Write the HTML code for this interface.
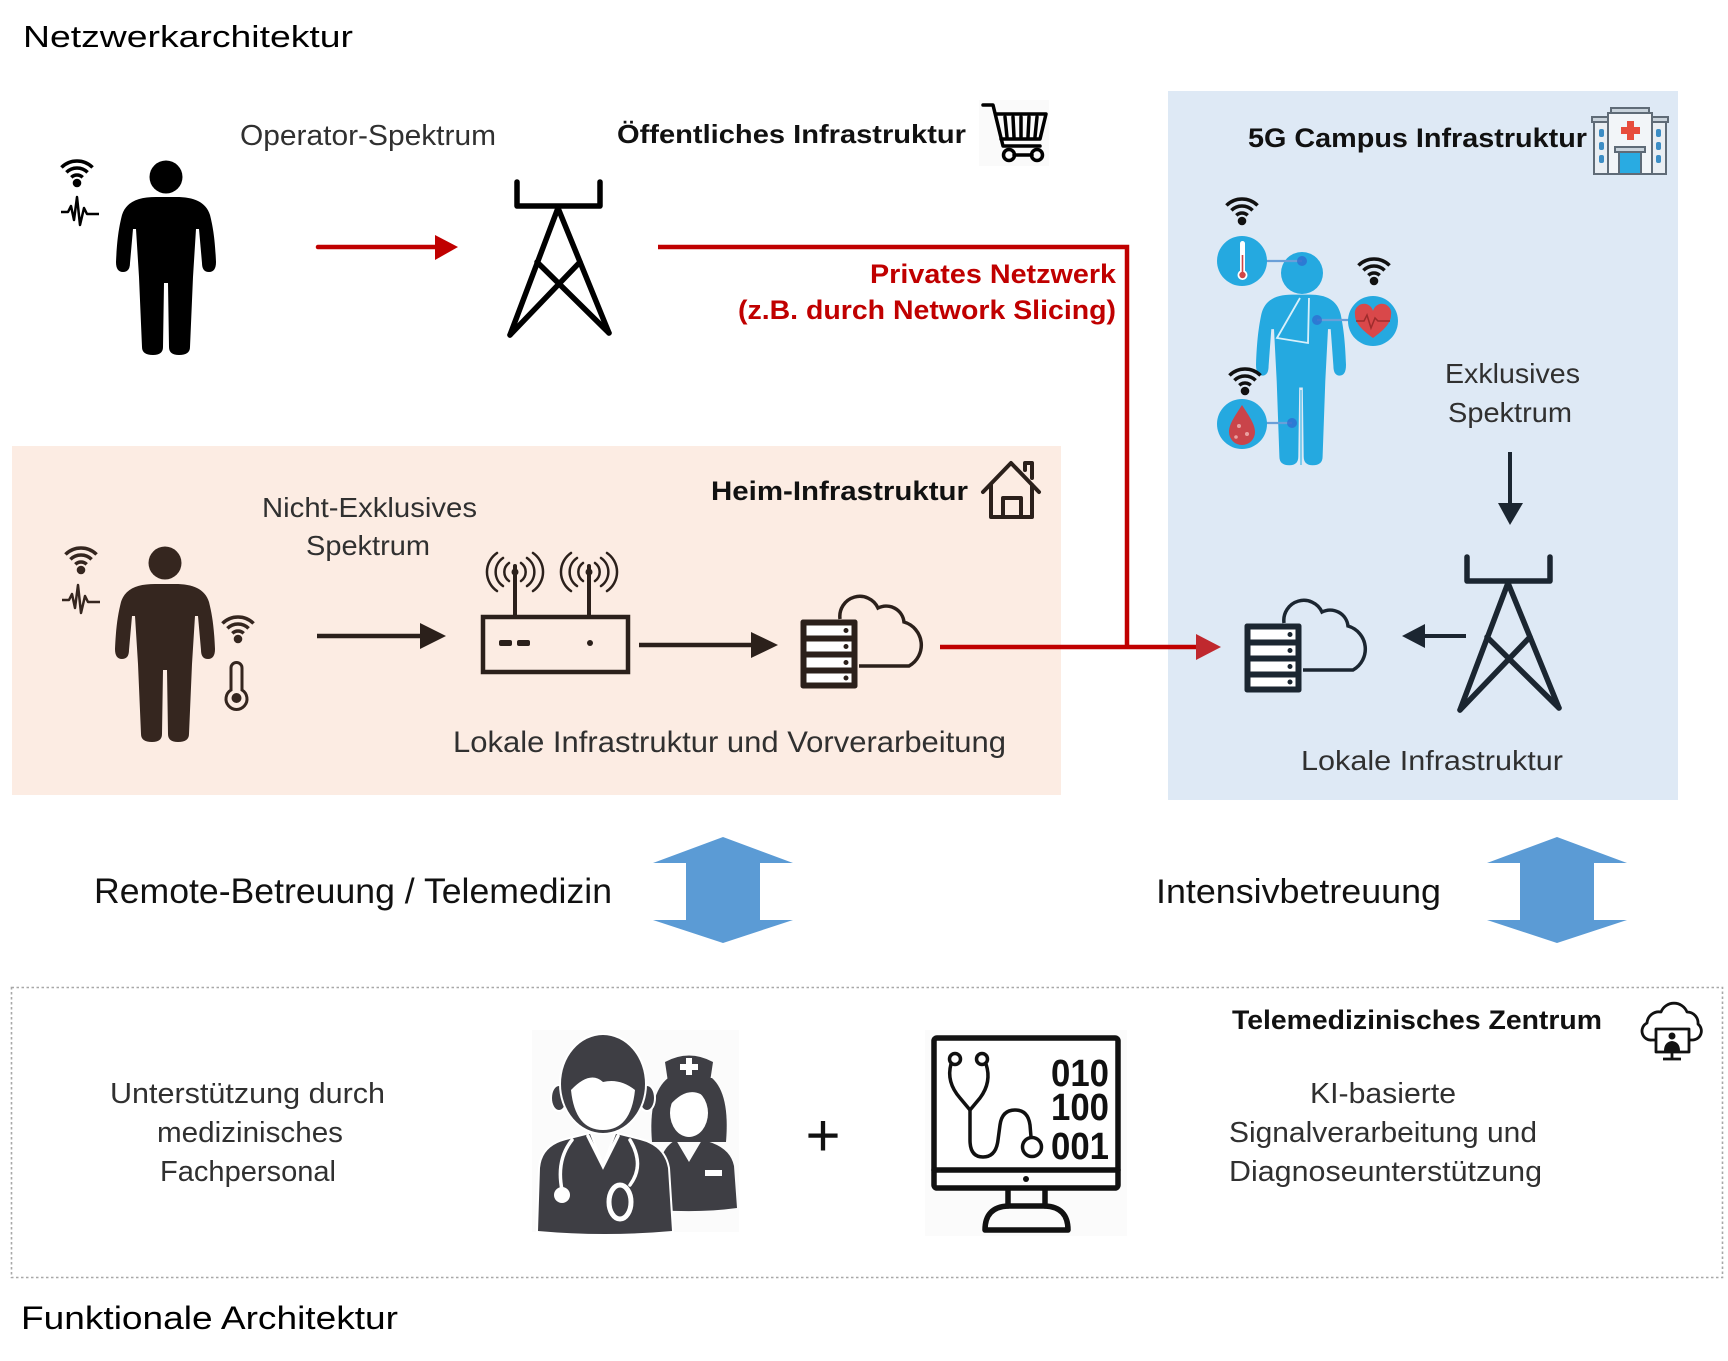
<!DOCTYPE html>
<html><head><meta charset="utf-8"><style>
html,body{margin:0;padding:0;background:#fff;}
svg{display:block;}
text{font-family:"Liberation Sans",sans-serif;}
.l{fill:#303030;}
.b{font-weight:bold;fill:#111;}
</style></head><body>
<svg width="1728" height="1361" viewBox="0 0 1728 1361" xmlns="http://www.w3.org/2000/svg">
<defs>
  <path id="person" d="M -10 20 C -28 20 -40 25 -44 38 C -47 50 -49 62 -50 85 Q -50 95 -43 95 Q -36 95 -36 86 L -33 52 L -30 52 L -27 100 L -24 170 Q -24 178 -13 178 Q -3 178 -3 170 L -2 106 L 2 106 L 3 170 Q 3 178 13 178 Q 24 178 24 170 L 27 100 L 30 52 L 33 52 L 36 86 Q 36 95 43 95 Q 50 95 50 85 C 49 62 47 50 44 38 C 40 25 28 20 10 20 Z"/>
  <g id="wifi"><circle cx="0" cy="0" r="3.8"/><path d="M -5.66 -5.66 A 8 8 0 0 1 5.66 -5.66 M -10.6 -10.6 A 15 15 0 0 1 10.6 -10.6 M -15.56 -15.56 A 22 22 0 0 1 15.56 -15.56" fill="none" stroke-width="3.5"/></g>
  <g id="tower" fill="none" stroke-width="5.5" stroke-linecap="round" stroke-linejoin="round">
    <path d="M 517 182 L 517 206 L 600 206 L 600 182"/>
    <path d="M 510 335 L 558 208 L 609 333"/>
    <path d="M 537 262 L 609 333 M 580 262 L 510 335"/>
  </g>
  <g id="server">
    <rect x="0" y="0" width="56" height="68" rx="2"/>
    <rect x="5" y="5" width="46" height="11" fill="#fff"/>
    <rect x="5" y="21" width="46" height="11" fill="#fff"/>
    <rect x="5" y="37" width="46" height="11" fill="#fff"/>
    <rect x="5" y="53" width="46" height="10" fill="#fff"/>
    <circle cx="45" cy="10.5" r="2"/><circle cx="45" cy="26.5" r="2"/><circle cx="45" cy="42.5" r="2"/><circle cx="45" cy="58" r="2"/>
    <path d="M 39 -1 A 20 20 0 0 1 77 -12 A 18 18 0 0 1 103 2 A 24 24 0 0 1 108 46 L 58 46" fill="none" stroke-width="3.5"/>
  </g>
</defs>

<!-- Background boxes -->
<rect x="12" y="446" width="1049" height="349" fill="#FCECE3"/>
<rect x="1168" y="91" width="510" height="709" fill="#DEE9F5"/>

<!-- Titles -->
<text x="23" y="47" font-size="31" fill="#000" textLength="330" lengthAdjust="spacingAndGlyphs">Netzwerkarchitektur</text>
<text x="21" y="1329" font-size="32" fill="#000" textLength="377" lengthAdjust="spacingAndGlyphs">Funktionale Architektur</text>

<!-- Person 1 -->
<g fill="#000">
  <circle cx="166" cy="177" r="16.5"/>
  <use href="#person" transform="translate(166,177)"/>
</g>
<use href="#wifi" x="77" y="183" fill="#000" stroke="#000"/>
<polyline points="61,212 68,212 71,206 74,220 77,197 80,225 84,208 87,214 99,214" fill="none" stroke="#000" stroke-width="2.5" stroke-linejoin="round"/>

<text x="240" y="145" font-size="29" class="l" textLength="256" lengthAdjust="spacingAndGlyphs">Operator-Spektrum</text>

<!-- Red arrow 1 -->
<line x1="318" y1="247" x2="440" y2="247" stroke="#C00000" stroke-width="4.5" stroke-linecap="round"/>
<polygon points="435,235 458,247 435,260" fill="#C00000"/>

<!-- Tower 1 -->
<use href="#tower" stroke="#000"/>

<text x="617" y="143" font-size="26" class="b" textLength="349" lengthAdjust="spacingAndGlyphs">Öffentliches Infrastruktur</text>

<!-- Cart -->
<rect x="979" y="100" width="70" height="66" fill="#fafafa"/>
<g fill="none" stroke="#000" stroke-width="3.5" stroke-linejoin="round" stroke-linecap="round">
  <path d="M 983 105 L 993 105 L 1003 146 L 1040 146"/>
  <path d="M 996 114 L 1046 114 L 1040 139 L 1001 139"/>
  <path d="M 1005 117 L 1007 137 M 1013 117 L 1014 137 M 1021 117 L 1021 137 M 1029 117 L 1028 137 M 1037 117 L 1035 137"/>
  <circle cx="1009" cy="155" r="5.5"/><circle cx="1037" cy="155" r="5.5"/>
  <path d="M 1014 155 L 1032 155"/>
</g>

<!-- Red network line -->
<polyline points="658,247 1127,247 1127,647" fill="none" stroke="#C00000" stroke-width="4.5"/>
<line x1="940" y1="647" x2="1200" y2="647" stroke="#C00000" stroke-width="4.5"/>
<polygon points="1196,634 1221,647 1196,660" fill="#C0282E"/>
<text x="870" y="283" font-size="27" font-weight="bold" fill="#C00000" textLength="246" lengthAdjust="spacingAndGlyphs">Privates Netzwerk</text>
<text x="738" y="319" font-size="27" font-weight="bold" fill="#C00000" textLength="378" lengthAdjust="spacingAndGlyphs">(z.B. durch Network Slicing)</text>

<!-- 5G campus -->
<text x="1248" y="147" font-size="27" class="b" textLength="339" lengthAdjust="spacingAndGlyphs">5G Campus Infrastruktur</text>
<!-- Hospital -->
<g stroke="#5f6b77" stroke-width="2">
  <rect x="1594" y="121" width="15" height="53" fill="#e9eef3"/>
  <rect x="1651" y="121" width="15" height="53" fill="#e9eef3"/>
  <rect x="1592" y="117" width="19" height="5" fill="#c9d3dc"/>
  <rect x="1649" y="117" width="19" height="5" fill="#c9d3dc"/>
  <rect x="1608" y="113" width="44" height="61" fill="#f2f5f8"/>
  <rect x="1611" y="108" width="38" height="5" fill="#c9d3dc"/>
  <rect x="1619" y="152" width="22" height="22" fill="#29abe2"/>
  <rect x="1615" y="147" width="30" height="5" fill="#c9d3dc"/>
</g>
<g fill="#3c8dc5">
  <rect x="1599" y="129" width="5" height="8" rx="2"/><rect x="1599" y="142" width="5" height="8" rx="2"/><rect x="1599" y="155" width="5" height="8" rx="2"/>
  <rect x="1656" y="129" width="5" height="8" rx="2"/><rect x="1656" y="142" width="5" height="8" rx="2"/><rect x="1656" y="155" width="5" height="8" rx="2"/>
</g>
<g fill="#e74c3c"><rect x="1627" y="121" width="7" height="19"/><rect x="1621" y="127" width="19" height="7"/></g>

<!-- Blue patient figure -->
<g fill="#25A9E0">
  <circle cx="1302" cy="273" r="21"/>
  <use href="#person" transform="translate(1301,273) scale(0.9,1.08)"/>
</g>
<path d="M 1300 298 L 1277 338 L 1308 343 L 1309 298" fill="none" stroke="#d8f0fb" stroke-width="1.8"/>
<line x1="1301" y1="390" x2="1301" y2="465" stroke="#62c2ea" stroke-width="1.5"/>
<!-- connectors -->
<g stroke="#6a9fd8" stroke-width="2.2">
  <line x1="1266" y1="261" x2="1302" y2="261"/>
  <line x1="1317" y1="320" x2="1349" y2="320"/>
  <line x1="1266" y1="423" x2="1292" y2="423"/>
</g>
<g fill="#2f6bd0" opacity="0.75">
  <circle cx="1302" cy="261" r="5"/><circle cx="1317" cy="320" r="5"/><circle cx="1292" cy="423" r="5"/>
</g>
<!-- sensor circles -->
<circle cx="1242" cy="261" r="25" fill="#25A9E0"/>
<circle cx="1373" cy="321" r="25" fill="#25A9E0"/>
<circle cx="1242" cy="424" r="25" fill="#25A9E0"/>
<rect x="1240" y="241" width="5" height="32" rx="2.5" fill="#fff"/>
<circle cx="1242.5" cy="275" r="5" fill="#fff"/>
<circle cx="1242.5" cy="275" r="3.2" fill="#d04545"/>
<line x1="1242.5" y1="255" x2="1242.5" y2="274" stroke="#d04545" stroke-width="1.6"/>
<path d="M 1373 338 C 1362 330 1355 323 1355 315 A 8 8 0 0 1 1373 311 A 8 8 0 0 1 1391 315 C 1391 323 1384 330 1373 338 Z" fill="#D9484A"/>
<polyline points="1356,321 1364,321 1367,315 1371,328 1375,318 1378,321 1390,321" fill="none" stroke="#9e2c2c" stroke-width="1.5"/>
<path d="M 1242 405 C 1249 416 1255 424 1255 432 A 13 13 0 0 1 1229 432 C 1229 424 1235 416 1242 405 Z" fill="#C9444A"/>
<circle cx="1239" cy="426" r="2" fill="#e9a0a0"/><circle cx="1247" cy="434" r="2" fill="#e9a0a0"/><circle cx="1236" cy="437" r="1.8" fill="#e9a0a0"/>
<use href="#wifi" x="1242" y="221" fill="#111" stroke="#111"/>
<use href="#wifi" x="1374" y="281" fill="#111" stroke="#111"/>
<use href="#wifi" x="1245" y="391" fill="#111" stroke="#111"/>

<text x="1445" y="383" font-size="28" class="l" textLength="135" lengthAdjust="spacingAndGlyphs">Exklusives</text>
<text x="1448" y="422" font-size="28" class="l" textLength="124" lengthAdjust="spacingAndGlyphs">Spektrum</text>

<!-- down arrow -->
<line x1="1510" y1="452" x2="1510" y2="510" stroke="#1b2631" stroke-width="4"/>
<polygon points="1498,503 1510,525 1523,503" fill="#1b2631"/>

<!-- Tower 2 -->
<use href="#tower" transform="translate(950,375)" stroke="#1b2631"/>
<!-- left arrow -->
<line x1="1466" y1="636" x2="1415" y2="636" stroke="#1b2631" stroke-width="4"/>
<polygon points="1425,624 1402,636 1425,648" fill="#1b2631"/>

<!-- Server 2 -->
<use href="#server" transform="translate(1245,624)" fill="#1b2631" stroke="#1b2631"/>
<text x="1301" y="770" font-size="28" class="l" textLength="262" lengthAdjust="spacingAndGlyphs">Lokale Infrastruktur</text>

<!-- Home section -->
<text x="711" y="500" font-size="27" class="b" textLength="257" lengthAdjust="spacingAndGlyphs">Heim-Infrastruktur</text>
<g fill="none" stroke="#2b201b" stroke-width="4" stroke-linejoin="round" stroke-linecap="round">
  <path d="M 983 492 L 1011 463 L 1039 492"/>
  <path d="M 991 485 L 991 517 L 1032 517 L 1032 485"/>
  <path d="M 1003 517 L 1003 498 L 1021 498 L 1021 517"/>
  <path d="M 1025 470 L 1025 463 L 1032 463 L 1032 478"/>
</g>

<text x="262" y="517" font-size="28" class="l" textLength="215" lengthAdjust="spacingAndGlyphs">Nicht-Exklusives</text>
<text x="306" y="555" font-size="28" class="l" textLength="124" lengthAdjust="spacingAndGlyphs">Spektrum</text>

<!-- Person 2 -->
<g fill="#35261f">
  <circle cx="165" cy="563" r="16.5"/>
  <use href="#person" transform="translate(165,564)"/>
</g>
<use href="#wifi" x="81" y="570" fill="#35261f" stroke="#35261f"/>
<polyline points="62,600 69,600 72,594 75,608 78,585 81,613 85,596 88,602 100,602" fill="none" stroke="#35261f" stroke-width="2.5" stroke-linejoin="round"/>
<use href="#wifi" x="238" y="639" fill="#35261f" stroke="#35261f"/>
<path d="M 231 690 L 231 668 A 5.5 5.5 0 0 1 242 668 L 242 690 A 10.5 10.5 0 1 1 231 690 Z" fill="none" stroke="#35261f" stroke-width="3"/>
<circle cx="236.5" cy="698" r="5" fill="#35261f"/>

<!-- home arrows -->
<line x1="317" y1="636" x2="430" y2="636" stroke="#2b201b" stroke-width="4.5"/>
<polygon points="420,623 446,636 420,649" fill="#2b201b"/>
<!-- Router -->
<g fill="none" stroke="#2b201b" stroke-linecap="round">
  <rect x="483" y="617" width="145" height="55" stroke-width="4.5"/>
  <line x1="515" y1="566" x2="515" y2="617" stroke-width="4"/>
  <line x1="589" y1="566" x2="589" y2="617" stroke-width="4"/>
  <path d="M 509 563 A 11 11 0 0 0 509 581 M 503 558 A 17 17 0 0 0 503 586 M 497 553 A 23 23 0 0 0 497 591 M 521 563 A 11 11 0 0 1 521 581 M 527 558 A 17 17 0 0 1 527 586 M 533 553 A 23 23 0 0 1 533 591" stroke-width="2.5"/>
  <path d="M 583 563 A 11 11 0 0 0 583 581 M 577 558 A 17 17 0 0 0 577 586 M 571 553 A 23 23 0 0 0 571 591 M 595 563 A 11 11 0 0 1 595 581 M 601 558 A 17 17 0 0 1 601 586 M 607 553 A 23 23 0 0 1 607 591" stroke-width="2.5"/>
</g>
<circle cx="515" cy="572" r="3.5" fill="#2b201b"/><circle cx="589" cy="572" r="3.5" fill="#2b201b"/>
<rect x="499" y="640" width="13" height="6" rx="2" fill="#2b201b"/>
<rect x="517" y="640" width="13" height="6" rx="2" fill="#2b201b"/>
<circle cx="590" cy="643" r="3" fill="#2b201b"/>
<line x1="639" y1="645" x2="765" y2="645" stroke="#2b201b" stroke-width="4.5"/>
<polygon points="751,632 778,645 751,658" fill="#2b201b"/>
<!-- Server 1 -->
<use href="#server" transform="translate(801,620)" fill="#2b201b" stroke="#2b201b"/>
<text x="453" y="752" font-size="30" class="l" textLength="553" lengthAdjust="spacingAndGlyphs">Lokale Infrastruktur und Vorverarbeitung</text>

<!-- Middle row -->
<text x="94" y="903" font-size="35" fill="#111" textLength="518" lengthAdjust="spacingAndGlyphs">Remote-Betreuung / Telemedizin</text>
<polygon points="723,837 793,863 760,863 760,920 793,920 723,943 653,920 686,920 686,863 653,863" fill="#5B9BD5"/>
<text x="1156" y="903" font-size="34" fill="#111" textLength="285" lengthAdjust="spacingAndGlyphs">Intensivbetreuung</text>
<polygon points="1557,837 1627,863 1594,863 1594,920 1627,920 1557,943 1487,920 1520,920 1520,863 1487,863" fill="#5B9BD5"/>

<!-- Dotted box -->
<rect x="11.5" y="987.5" width="1711" height="290" fill="none" stroke="#a8a8a8" stroke-width="1.6" stroke-dasharray="2.5 2.5"/>

<text x="110" y="1103" font-size="29" class="l" textLength="275" lengthAdjust="spacingAndGlyphs">Unterstützung durch</text>
<text x="157" y="1142" font-size="29" class="l" textLength="186" lengthAdjust="spacingAndGlyphs">medizinisches</text>
<text x="160" y="1181" font-size="29" class="l" textLength="176" lengthAdjust="spacingAndGlyphs">Fachpersonal</text>

<!-- Doctor & nurse icon -->
<rect x="532" y="1030" width="207" height="202" fill="#fbfbfb"/>
<g fill="#3e3e44">
  <path d="M 652 1142 Q 648 1094 668 1078 L 712 1078 Q 730 1094 726 1142 Z"/>
  <path d="M 668 1082 L 665 1062 Q 689 1049 713 1062 L 710 1082 Z"/>
  <path d="M 658 1210 L 660 1162 Q 664 1146 676 1140 L 689 1162 L 702 1140 Q 730 1146 734 1166 L 737 1208 Q 700 1213 658 1210 Z"/>
</g>
<g fill="#fff"><rect x="686" y="1058" width="6" height="17"/><rect x="680" y="1064" width="18" height="6"/></g>
<ellipse cx="689" cy="1113" rx="19" ry="24" fill="#fff"/>
<path d="M 670 1105 Q 690 1082 709 1100 L 709 1086 L 670 1086 Z" fill="#3e3e44"/>
<rect x="705" y="1170" width="17" height="6" fill="#fff"/>
<g fill="#3e3e44" stroke="#fff" stroke-width="4" paint-order="stroke">
  <path d="M 538 1231 L 540 1168 Q 542 1146 566 1140 L 590 1134 L 603 1168 L 616 1134 L 640 1140 Q 664 1146 668 1168 L 672 1231 Q 605 1237 538 1231 Z"/>
  <ellipse cx="559" cy="1098" rx="7" ry="12"/>
  <ellipse cx="647" cy="1098" rx="7" ry="12"/>
  <ellipse cx="603" cy="1084" rx="42" ry="49"/>
</g>
<path d="M 571 1090 Q 575 1130 603 1130 Q 631 1130 635 1090 Q 620 1078 603 1082 Q 590 1070 571 1090 Z" fill="#fff"/>
<g fill="none" stroke="#fff" stroke-width="3.5" stroke-linecap="round">
  <polyline points="588,1136 603,1166 618,1136"/>
  <path d="M 572 1140 Q 556 1160 562 1190"/>
  <path d="M 630 1140 Q 645 1165 630 1185"/>
  <ellipse cx="620" cy="1202" rx="11" ry="17" stroke-width="5"/>
</g>
<circle cx="562" cy="1195" r="8" fill="#fff"/>

<text x="823" y="1156" font-size="60" fill="#111" text-anchor="middle">+</text>

<!-- Monitor icon -->
<rect x="925" y="1030" width="202" height="206" fill="#fbfbfb"/>
<g fill="none" stroke="#111" stroke-width="5.5" stroke-linejoin="round" stroke-linecap="round">
  <rect x="934" y="1038" width="184" height="150" rx="3" fill="#fff"/>
  <line x1="934" y1="1170" x2="1118" y2="1170"/>
  <path d="M 1008 1189 L 1008 1206 M 1045 1189 L 1045 1206"/>
  <path d="M 985 1230 L 1068 1230 Q 1068 1207 1045 1206 L 1008 1206 Q 985 1207 985 1230 Z"/>
</g>
<circle cx="1026" cy="1179" r="3" fill="#111"/>
<g fill="none" stroke="#111" stroke-width="3.5" stroke-linecap="round" stroke-linejoin="round">
  <circle cx="955" cy="1059" r="5.5"/><circle cx="982" cy="1059" r="5.5"/>
  <path d="M 951 1064 Q 946 1082 960 1098 L 970 1110 L 980 1098 Q 992 1082 986 1064"/>
  <path d="M 970 1110 L 970 1140 Q 970 1157 983 1157 Q 996 1157 998 1140 L 1000 1125 Q 1002 1110 1015 1110 Q 1028 1110 1030 1125 L 1031 1137"/>
  <circle cx="1032" cy="1147" r="9.5"/>
</g>
<g font-weight="bold" fill="#111" font-size="38">
  <text x="1051" y="1086" textLength="58" lengthAdjust="spacingAndGlyphs">010</text>
  <text x="1051" y="1120" textLength="58" lengthAdjust="spacingAndGlyphs">100</text>
  <text x="1051" y="1159" textLength="58" lengthAdjust="spacingAndGlyphs">001</text>
</g>

<text x="1232" y="1029" font-size="27" class="b" textLength="370" lengthAdjust="spacingAndGlyphs">Telemedizinisches Zentrum</text>
<!-- cloud monitor icon -->
<g fill="none" stroke="#111" stroke-width="2.8" stroke-linejoin="round">
  <path d="M 1655 1040 L 1652 1040 A 9 9 0 0 1 1647 1023 A 12 12 0 0 1 1661 1012 A 14 14 0 0 1 1687 1012 A 11 11 0 0 1 1698 1024 A 9 9 0 0 1 1693 1040 L 1690 1040"/>
  <rect x="1656" y="1029" width="33" height="23" fill="#fff"/>
  <path d="M 1672 1052 L 1672 1058 M 1663 1059 L 1681 1059"/>
</g>
<circle cx="1672" cy="1036" r="3.5" fill="#111"/>
<path d="M 1664 1051 Q 1664 1042 1672 1041 Q 1680 1042 1680 1051 Z" fill="#111"/>

<text x="1310" y="1103" font-size="29" class="l" textLength="146" lengthAdjust="spacingAndGlyphs">KI-basierte</text>
<text x="1229" y="1142" font-size="29" class="l" textLength="308" lengthAdjust="spacingAndGlyphs">Signalverarbeitung und</text>
<text x="1229" y="1181" font-size="29" class="l" textLength="313" lengthAdjust="spacingAndGlyphs">Diagnoseunterstützung</text>
</svg>
</body></html>
